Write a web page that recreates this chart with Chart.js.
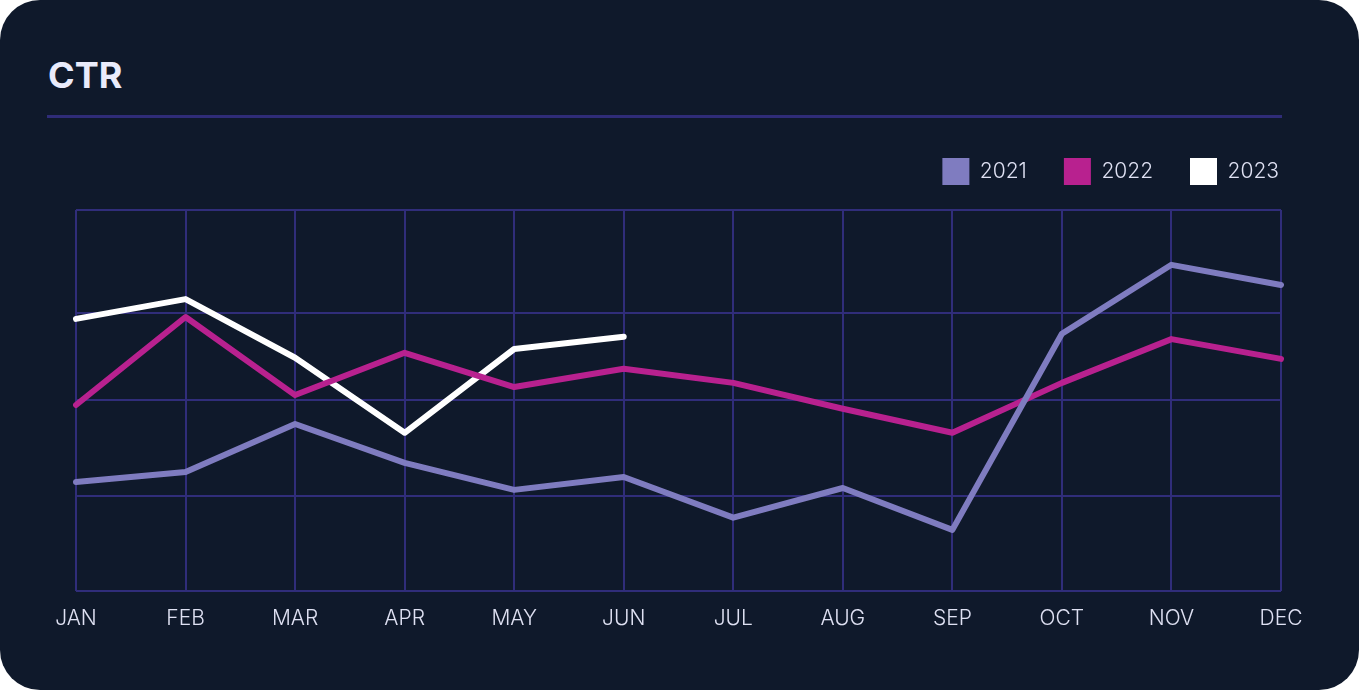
<!DOCTYPE html>
<html>
<head>
<meta charset="utf-8">
<title>CTR</title>
<script src="https://cdn.jsdelivr.net/npm/chart.js@4.4.0/dist/chart.umd.min.js"></script>
<style>
  html, body { margin: 0; padding: 0; background: #ffffff; }
  #card {
    position: absolute; left: 0; top: 0;
    width: 1359px; height: 690px;
    background: #0f192b;
    border-radius: 40px;
    overflow: hidden;
  }
  #title {
    position: absolute; left: 48px; top: 57px; margin: 0;
    font: 700 36px/36px Inter, sans-serif;
    color: #e9ebfb;
  }
  #rule {
    position: absolute; left: 47px; top: 115px;
    width: 1235px; height: 3px;
    background: #2f2c78;
  }
  #wrap { position: absolute; left: 0; top: 0; width: 1359px; height: 690px; }
</style>
</head>
<body>
<div id="card">
  <h1 id="title">CTR</h1>
  <div id="rule"></div>
  <div id="wrap"><canvas id="ctr"></canvas></div>
</div>

<script>
// ---- data ----
var months = ['JAN', 'FEB', 'MAR', 'APR', 'MAY', 'JUN', 'JUL', 'AUG', 'SEP', 'OCT', 'NOV', 'DEC'];
var ctr2021 = [2.86, 3.12, 4.38, 3.36, 2.65, 2.99, 1.92, 2.70, 1.60, 6.75, 8.56, 8.03];
var ctr2022 = [4.88, 7.19, 5.14, 6.25, 5.35, 5.83, 5.46, 4.78, 4.15, 5.46, 6.61, 6.09];
var ctr2023 = [7.14, 7.66, 6.12, 4.15, 6.35, 6.67];
var yTicks = [0, 2.5, 5, 7.3, 10];

var gridColor = '#302d7a';
var labelColor = '#dfe1f3';

// extra room between legend and plot
var legendGap = {
    id: 'legendGap',
    beforeInit: function (chart) {
        var fit = chart.legend.fit;
        chart.legend.fit = function () {
            fit.bind(chart.legend)();
            this.height += 15;
        };
    }
};

function line(label, data, color) {
    return {
        label: label,
        data: data,
        borderColor: color,
        backgroundColor: color,
        borderWidth: 6,
        pointRadius: 0,
        pointHoverRadius: 0,
        tension: 0,
        borderCapStyle: 'round',
        borderJoinStyle: 'round'
    };
}

var ctx = document.getElementById('ctr');

var chart = new Chart(ctx, {
    type: 'line',
    data: {
        labels: months,
        datasets: [
            line('2021', ctr2021, '#7f7cc0'),
            line('2022', ctr2022, '#b8218f'),
            line('2023', ctr2023, '#ffffff')
        ]
    },
    options: {
        responsive: true,
        maintainAspectRatio: false,
        animation: false,
        layout: { padding: { top: 121, left: 76, right: 43, bottom: 44 } },
        plugins: {
            tooltip: { enabled: false },
            legend: {
                display: true,
                position: 'top',
                align: 'end',
                labels: {
                    boxWidth: 27,
                    boxHeight: 27,
                    padding: 37,
                    color: labelColor,
                    font: { family: 'Inter', size: 21, weight: 300 },
                    generateLabels: function (chart) {
                        return Chart.defaults.plugins.legend.labels.generateLabels(chart).map(function (l) {
                            l.lineWidth = 0;
                            return l;
                        });
                    }
                }
            }
        },
        scales: {
            x: {
                grid: { color: gridColor, lineWidth: 2, drawTicks: false },
                border: { display: false },
                ticks: {
                    color: labelColor,
                    padding: 15,
                    maxRotation: 0,
                    font: { family: 'Inter', size: 21, weight: 300 }
                }
            },
            y: {
                min: 0,
                max: 10,
                afterBuildTicks: function (scale) {
                    scale.ticks = yTicks.map(function (v) { return { value: v }; });
                },
                grid: { color: gridColor, lineWidth: 2, drawTicks: false },
                border: { display: false },
                ticks: { display: false }
            },
            // empty right axis: keeps the plot narrower than the legend row
            y2: {
                position: 'right',
                display: true,
                grid: { display: false },
                border: { display: false },
                ticks: { display: false },
                afterFit: function (scale) { scale.width = 35; }
            }
        }
    },
    plugins: [legendGap]
});
</script>
</body>
</html>
